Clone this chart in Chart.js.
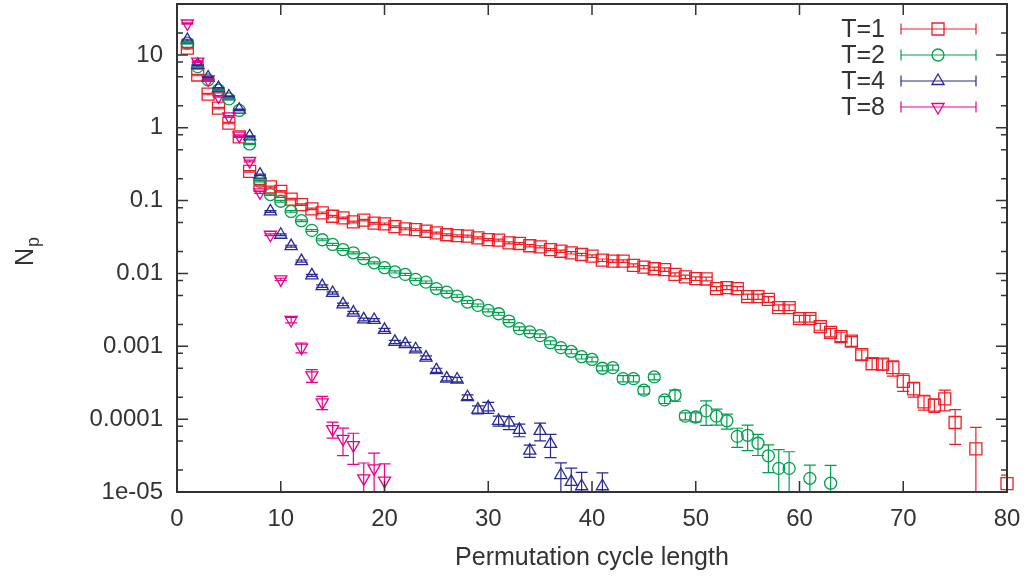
<!DOCTYPE html>
<html><head><meta charset="utf-8">
<script src="https://cdn.jsdelivr.net/npm/chart.js@4/dist/chart.umd.min.js"></script>
<style>html,body{margin:0;padding:0;background:#fff;}canvas{display:block;}</style>
</head><body>
<canvas id="c" width="1035" height="577"></canvas>
<script>
// ---------- DATA ----------
const seriesNames = ['T=1', 'T=2', 'T=4', 'T=8'];

const xT1 = [1,2,3,4,5,6,7,8,9,10,11,12,13,14,15,16,17,18,19,20,21,22,23,24,25,26,27,28,29,30,31,32,33,34,35,36,37,38,39,40,41,42,43,44,45,46,47,48,49,50,51,52,53,54,55,56,57,58,59,60,61,62,63,64,65,66,67,68,69,70,71,72,73,74,75,77,80];
const yT1 = [12.4,5.3,2.9,1.86,1.16,0.75,0.252,0.163,0.154,0.134,0.105,0.088,0.077,0.068,0.061,0.058,0.051,0.054,0.049,0.048,0.044,0.041,0.040,0.038,0.036,0.034,0.033,0.0325,0.0308,0.0292,0.0287,0.0263,0.0258,0.0240,0.0232,0.0213,0.0202,0.0192,0.0182,0.0173,0.0152,0.0148,0.0148,0.0129,0.0122,0.0116,0.0113,0.0097,0.0090,0.0085,0.0084,0.0062,0.0064,0.0062,0.0048,0.0048,0.0044,0.0034,0.0034,0.0024,0.0024,0.00186,0.00155,0.00136,0.00118,0.00077,0.00058,0.00057,0.00051,0.00033,0.00026,0.000173,0.000156,0.00019,0.00009,0.000039,0.000013];
const eT1 = [0.3,0.12,0.06,0.04,0.025,0.015,0.006,0.004,0.004,0.003,0.0025,0.002,0.002,0.0018,0.0016,0.0015,0.0014,0.0014,0.0013,0.0013,0.0012,0.0012,0.0011,0.0011,0.001,0.001,0.001,0.001,0.0009,0.0009,0.0009,0.0008,0.0008,0.0008,0.0008,0.0007,0.0007,0.0007,0.0007,0.0007,0.0006,0.0006,0.0006,0.0006,0.0006,0.0006,0.0006,0.0005,0.0005,0.0005,0.0005,0.0004,0.0004,0.0004,0.0004,0.0004,0.0004,0.0003,0.0003,0.00025,0.00025,0.0002,0.0002,0.0002,0.00018,0.00012,0.0001,0.0001,0.00012,0.00009,0.00006,0.00004,0.000032,0.00006,0.000045,0.000038,0.000004];

const xT2 = [1,2,3,4,5,6,7,8,9,10,11,12,13,14,15,16,17,18,19,20,21,22,23,24,25,26,27,28,29,30,31,32,33,34,35,36,37,38,39,40,41,42,43,44,45,46,47,48,49,50,51,52,53,54,55,56,57,58,59,61,63];
const yT2 = [14.5,6.9,4.55,3.3,2.49,1.73,0.60,0.184,0.121,0.098,0.071,0.053,0.039,0.029,0.025,0.0213,0.0192,0.016,0.014,0.012,0.0105,0.0097,0.0083,0.0076,0.0062,0.00555,0.0049,0.00405,0.00365,0.00311,0.0028,0.00222,0.00175,0.00158,0.0014,0.00112,0.00096,0.00085,0.00072,0.00066,0.0005,0.00051,0.00036,0.00036,0.00025,0.00038,0.000184,0.000213,0.000110,0.000107,0.00013,0.00011,0.000095,0.000058,0.000060,0.0000467,0.0000314,0.0000211,0.0000211,0.0000154,0.0000132];
const eT2 = [0.3,0.15,0.09,0.06,0.045,0.03,0.012,0.004,0.003,0.0025,0.0018,0.0014,0.0011,0.0009,0.0008,0.0007,0.0006,0.0005,0.00045,0.0004,0.00036,0.00033,0.0003,0.00028,0.00025,0.00022,0.0002,0.00018,0.00016,0.00014,0.00013,0.00011,0.0001,0.00009,0.00008,0.00007,0.00006,0.00006,0.00005,0.00005,0.00004,0.00004,0.000035,0.000035,0.00003,0.000035,0.00002,0.000037,0.000012,0.000015,0.000048,0.000027,0.000022,0.000017,0.000023,0.000015,0.000013,0.000017,0.0000146,0.000008,0.00001];

const xT4 = [1,2,3,4,5,6,7,8,9,10,11,12,13,14,15,16,17,18,19,20,21,22,23,24,25,26,27,28,29,30,31,32,33,34,35,36,37,38,39,41];
const yT4 = [16,7.3,4.9,3.5,2.69,1.77,0.76,0.227,0.071,0.034,0.0237,0.0148,0.0094,0.0067,0.0054,0.00376,0.0029,0.00234,0.0023,0.00168,0.00115,0.00107,0.00091,0.0007,0.00047,0.00036,0.00035,0.0002,0.000135,0.000145,0.000095,0.00009,0.0000713,0.0000369,0.0000692,0.0000457,0.0000171,0.0000138,0.0000120,0.000012];
const eT4 = [0.4,0.15,0.1,0.07,0.05,0.035,0.015,0.005,0.002,0.001,0.0007,0.0005,0.0003,0.00025,0.0002,0.00015,0.00012,0.0001,0.0001,0.00008,0.00006,0.00006,0.00005,0.00004,0.00003,0.000025,0.000025,0.000015,0.000017,0.000025,0.000015,0.000018,0.000014,0.000007,0.000019,0.000016,0.000008,0.0000075,0.0000066,0.0000063];

const xT8 = [1,2,3,4,5,6,7,8,9,10,11,12,13,14,15,16,17,18,19,20];
const yT8 = [27,8.1,4.6,2.7,1.43,0.78,0.35,0.13,0.034,0.0083,0.0023,0.00096,0.0004,0.00017,0.000073,0.0000535,0.000044,0.0000154,0.0000211,0.0000143];
const eT8 = [0.6,0.2,0.1,0.06,0.035,0.02,0.01,0.004,0.001,0.0003,0.0002,0.00015,0.00008,0.000035,0.000018,0.000022,0.00002,0.0000096,0.000013,0.00001];

const xTickVals = [0,10,20,30,40,50,60,70,80];
const yTickVals = [1e-5,1e-4,1e-3,1e-2,1e-1,1,10];
const yTickLabels = ['1e-05','0.0001','0.001','0.01','0.1','1','10'];
const yMinorMult = [2,5,8];

// ---------- STYLE ----------
const FONT = "'Liberation Sans', Arial, Helvetica, sans-serif";
const TXT = '#333333';
const colors = ['rgb(240,30,36)','rgb(0,160,80)','rgb(40,40,150)','rgb(232,0,140)'];
const styles = [
  {pointStyle:'rect', radius:8.5, rotation:0},
  {pointStyle:'circle', radius:6, rotation:0},
  {pointStyle:'triangle', radius:7, rotation:0},
  {pointStyle:'triangle', radius:7, rotation:180}
];

const xsAll = [xT1,xT2,xT4,xT8], ysAll = [yT1,yT2,yT4,yT8], esAll = [eT1,eT2,eT4,eT8];
const datasets = seriesNames.map((name,i)=>({
  label: name,
  data: xsAll[i].map((x,j)=>({x:x, y:ysAll[i][j]})),
  errors: esAll[i],
  borderColor: colors[i],
  backgroundColor: 'rgba(0,0,0,0)',
  borderWidth: 1.3,
  pointStyle: styles[i].pointStyle,
  pointRadius: styles[i].radius,
  pointRotation: styles[i].rotation,
  pointHoverRadius: styles[i].radius,
  clip: false,
  order: 4 - i
}));

function drawMarker(ctx, st, color, x, y){
  ctx.save();
  ctx.strokeStyle = color; ctx.lineWidth = 1.3; ctx.fillStyle='rgba(0,0,0,0)';
  if (Chart.helpers && Chart.helpers.drawPoint) {
    Chart.helpers.drawPoint(ctx, {pointStyle: st.pointStyle, radius: st.radius, rotation: st.rotation, borderWidth: 1.3}, x, y);
  }
  ctx.restore();
}

const deco = {
  id: 'deco',
  afterDatasetsDraw(chart){
    const ctx = chart.ctx, a = chart.chartArea, sx = chart.scales.x, sy = chart.scales.y;
    ctx.save();
    ctx.beginPath(); ctx.rect(a.left, a.top, a.right-a.left, a.bottom-a.top); ctx.clip();
    chart.data.datasets.forEach((d)=>{
      ctx.strokeStyle = d.borderColor; ctx.lineWidth = 1.2;
      d.data.forEach((p,j)=>{
        const e = d.errors[j];
        const px = sx.getPixelForValue(p.x);
        const hi = sy.getPixelForValue(p.y + e);
        const lo = (p.y - e) > 0 ? sy.getPixelForValue(p.y - e) : a.bottom + 40;
        ctx.beginPath();
        ctx.moveTo(px, hi); ctx.lineTo(px, lo);
        ctx.moveTo(px-6, hi); ctx.lineTo(px+6, hi);
        ctx.moveTo(px-6, lo); ctx.lineTo(px+6, lo);
        ctx.stroke();
      });
    });
    ctx.restore();
  },
  afterDraw(chart){
    const ctx = chart.ctx, a = chart.chartArea, sx = chart.scales.x, sy = chart.scales.y;
    ctx.save();
    ctx.strokeStyle = TXT; ctx.lineWidth = 2;
    ctx.strokeRect(a.left, a.top, a.right-a.left, a.bottom-a.top);
    ctx.lineWidth = 1.5;
    ctx.beginPath();
    xTickVals.forEach(v=>{
      const px = sx.getPixelForValue(v);
      ctx.moveTo(px, a.bottom); ctx.lineTo(px, a.bottom-11);
      ctx.moveTo(px, a.top); ctx.lineTo(px, a.top+11);
    });
    yTickVals.forEach(v=>{
      const py = sy.getPixelForValue(v);
      ctx.moveTo(a.left, py); ctx.lineTo(a.left+11, py);
      ctx.moveTo(a.right, py); ctx.lineTo(a.right-11, py);
      yMinorMult.forEach(m=>{
        const mv = v*m;
        if (mv <= sy.max) {
          const my = sy.getPixelForValue(mv);
          ctx.moveTo(a.left, my); ctx.lineTo(a.left+6, my);
          ctx.moveTo(a.right, my); ctx.lineTo(a.right-6, my);
        }
      });
    });
    ctx.stroke();

    // legend
    const rows = [29, 55, 81, 107];
    ctx.font = '25px ' + FONT;
    ctx.textAlign = 'right'; ctx.textBaseline = 'middle';
    chart.data.datasets.forEach((d,i)=>{
      const y = rows[i];
      ctx.fillStyle = TXT;
      ctx.fillText(seriesNames[i], 885, y+1);
      ctx.strokeStyle = d.borderColor; ctx.lineWidth = 1.2;
      ctx.beginPath();
      ctx.moveTo(901, y); ctx.lineTo(976, y);
      ctx.moveTo(901, y-5.5); ctx.lineTo(901, y+5.5);
      ctx.moveTo(976, y-5.5); ctx.lineTo(976, y+5.5);
      ctx.stroke();
      drawMarker(ctx, styles[i], d.borderColor, 938, y);
    });

    // y title N_p
    ctx.save();
    ctx.translate(33, 266);
    ctx.rotate(-Math.PI/2);
    ctx.fillStyle = TXT;
    ctx.textAlign = 'left'; ctx.textBaseline = 'alphabetic';
    ctx.font = '25px ' + FONT;
    ctx.fillText('N', 0, 0);
    const w = ctx.measureText('N').width;
    ctx.font = '18px ' + FONT;
    ctx.fillText('p', w + 1, 6);
    ctx.restore();
    ctx.restore();
  }
};

new Chart(document.getElementById('c'), {
  type: 'scatter',
  data: { datasets },
  options: {
    responsive: false, animation: false, devicePixelRatio: 1,
    layout: { autoPadding: false, padding: { left: 0, top: 4, right: 28, bottom: 0 } },
    plugins: { legend: { display: false }, tooltip: { enabled: false } },
    scales: {
      x: {
        type: 'linear', min: 0, max: 80, bounds: 'data',
        grid: { display: false, drawTicks: false }, border: { display: false },
        afterBuildTicks(s){ s.ticks = xTickVals.map(v=>({value:v})); },
        ticks: { padding: 13, color: TXT, font: { size: 24, family: FONT }, maxRotation: 0, autoSkip: false },
        title: { display: true, text: 'Permutation cycle length', color: TXT, font: { size: 25, family: FONT }, padding: { top: 0, bottom: 4 } },
        afterFit(s){ s.height = 85; s.paddingLeft = 0; s.paddingRight = 0; s.paddingTop = 0; s.paddingBottom = 0; }
      },
      y: {
        type: 'logarithmic', min: 1e-5, max: 50, bounds: 'data',
        grid: { display: false, drawTicks: false }, border: { display: false },
        afterBuildTicks(s){ s.ticks = yTickVals.map(v=>({value:v})); },
        ticks: { padding: 14, color: TXT, font: { size: 24, family: FONT }, autoSkip: false,
          callback: (v, i) => yTickLabels[i] },
        afterFit(s){ s.width = 177; s.paddingTop = 0; s.paddingBottom = 0; s.paddingLeft = 0; s.paddingRight = 0; }
      }
    }
  },
  plugins: [deco]
});
</script>
</body></html>
